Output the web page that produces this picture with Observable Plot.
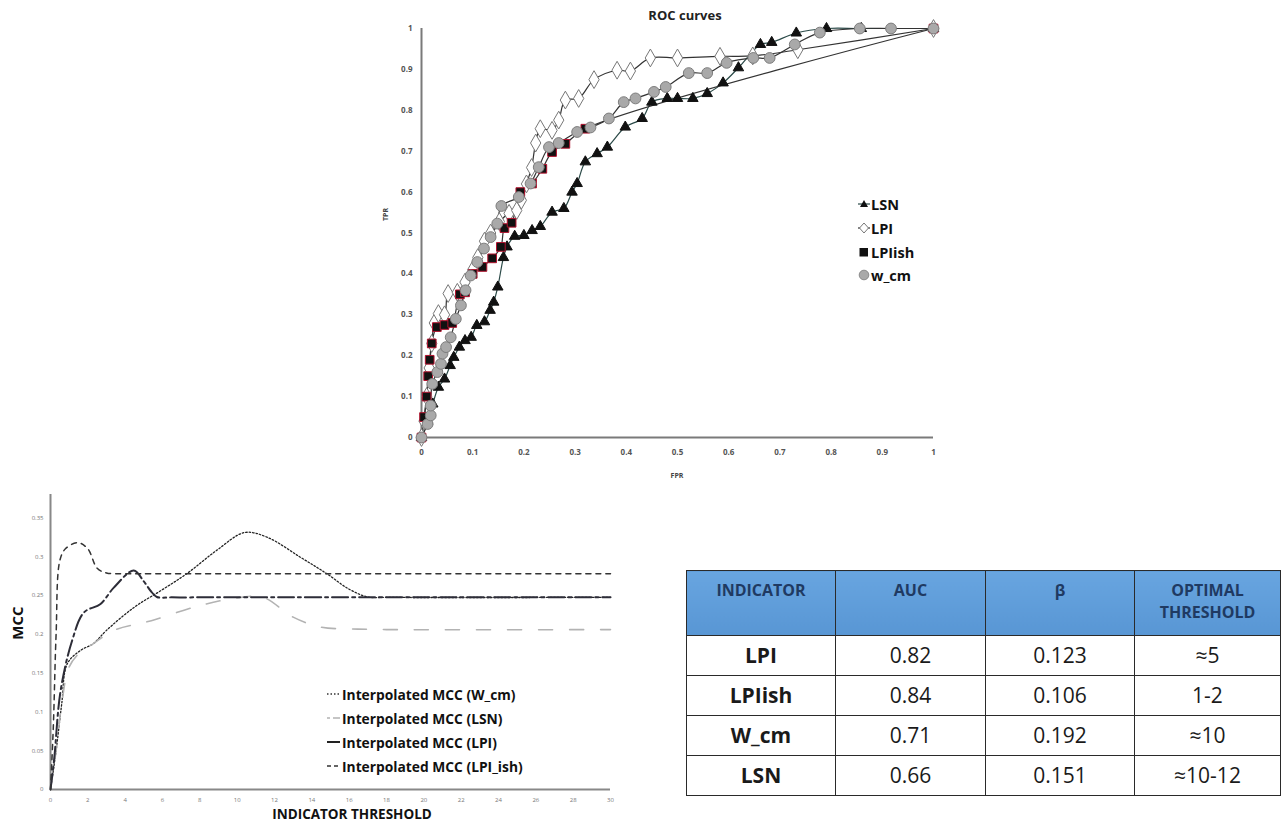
<!DOCTYPE html>
<html><head><meta charset="utf-8">
<script src="https://cdn.jsdelivr.net/npm/d3@7"></script>
<script src="https://cdn.jsdelivr.net/npm/@observablehq/plot@0.6"></script>
<style>
body{margin:0;background:#fff;font-family:"Open Sans",sans-serif;width:1285px;height:825px;position:relative;overflow:hidden}
.abs{position:absolute}
.lg{position:absolute;display:flex;align-items:center;font-weight:bold;white-space:nowrap;color:#111}
.lg svg{margin-right:1px}
table{border-collapse:collapse;table-layout:fixed}
td,th{border:1.5px solid #2a2a2a;text-align:center;padding:0}
th{background:linear-gradient(#68a5e0,#5896d4);color:#1f3a62;font-size:16px;font-weight:bold;vertical-align:top;padding-top:8px;line-height:22px;height:56px}
td{font-size:21px;color:#1a1a1a;height:39px;line-height:39px}
td.b{font-weight:bold}
</style></head><body>
<div id="roc" class="abs" style="left:370px;top:0"></div>
<div class="abs" style="left:600px;top:6px;width:170px;text-align:center;font-weight:bold;font-size:13px;color:#222">ROC curves</div>
<div class="abs" style="left:370px;top:210px;width:30px;text-align:center;font-weight:bold;font-size:7px;color:#444;transform:rotate(-90deg)">TPR</div>
<div class="abs" style="left:660px;top:471px;width:34px;text-align:center;font-weight:bold;font-size:7px;color:#444">FPR</div>
<div id="rocLegend"></div>

<div id="mcc" class="abs" style="left:0;top:490px"></div>
<div class="abs" style="left:-8px;top:613px;width:50px;text-align:center;font-weight:bold;font-size:15px;color:#111;transform:rotate(-90deg)">MCC</div>
<div class="abs" style="left:252px;top:805px;width:200px;text-align:center;font-weight:bold;font-size:13.5px;color:#111">INDICATOR THRESHOLD</div>
<div id="mccLegend"></div>

<div id="tbl" class="abs" style="left:686px;top:570px"></div>

<script>
// ---------------- ROC data ----------------
const lsnFpr = [0,0.012,0.022,0.033,0.045,0.056,0.063,0.074,0.085,0.097,0.108,0.123,0.134,0.141,0.149,0.16,0.167,0.182,0.2,0.216,0.232,0.255,0.278,0.294,0.304,0.32,0.343,0.363,0.398,0.431,0.45,0.48,0.5,0.53,0.558,0.589,0.619,0.662,0.684,0.732,0.791,0.859,1];
const lsnTpr = [0,0.04,0.082,0.123,0.143,0.176,0.196,0.221,0.237,0.245,0.274,0.283,0.311,0.331,0.368,0.44,0.466,0.492,0.494,0.506,0.516,0.551,0.56,0.6,0.621,0.674,0.694,0.71,0.759,0.78,0.82,0.829,0.829,0.829,0.841,0.867,0.904,0.961,0.966,0.989,1,1,1];

const lpiFpr = [0,0.005,0.01,0.015,0.02,0.025,0.033,0.045,0.052,0.07,0.085,0.1,0.11,0.123,0.135,0.152,0.171,0.186,0.195,0.205,0.215,0.223,0.232,0.255,0.268,0.281,0.307,0.337,0.382,0.408,0.447,0.5,0.583,0.647,0.735,1];
const lpiTpr = [0,0.04,0.1,0.17,0.23,0.28,0.303,0.3,0.352,0.355,0.38,0.41,0.44,0.48,0.5,0.528,0.548,0.555,0.58,0.62,0.66,0.72,0.755,0.751,0.776,0.825,0.829,0.875,0.898,0.896,0.928,0.928,0.932,0.933,0.948,1];

const lpiishFpr = [0,0.005,0.01,0.013,0.016,0.02,0.03,0.045,0.06,0.075,0.085,0.1,0.119,0.138,0.155,0.162,0.176,0.193,0.216,0.236,0.255,0.281,0.32,1];
const lpiishTpr = [0,0.05,0.1,0.15,0.19,0.23,0.27,0.275,0.28,0.35,0.355,0.4,0.417,0.438,0.466,0.512,0.525,0.6,0.621,0.657,0.698,0.718,0.755,1];

const wcmFpr = [0,0.012,0.018,0.018,0.021,0.031,0.038,0.041,0.048,0.057,0.067,0.077,0.086,0.096,0.109,0.122,0.135,0.148,0.156,0.19,0.213,0.229,0.249,0.268,0.304,0.33,0.366,0.395,0.418,0.454,0.477,0.522,0.558,0.596,0.648,0.68,0.729,0.778,0.856,0.917,1];
const wcmTpr = [0,0.033,0.054,0.078,0.131,0.16,0.18,0.205,0.221,0.245,0.29,0.323,0.36,0.396,0.429,0.462,0.49,0.523,0.566,0.588,0.621,0.661,0.71,0.72,0.747,0.758,0.78,0.82,0.829,0.845,0.857,0.891,0.891,0.916,0.928,0.928,0.961,0.99,1,1,1];

const rocTicks = [0,0.1,0.2,0.3,0.4,0.5,0.6,0.7,0.8,0.9,1];
const rocNames = ["LSN","LPI","LPIish","w_cm"];

// ---------------- MCC data ----------------
const wcmT = [0,0.3,0.6,0.9,1.6,2.3,3.0,4.5,5.9,7.3,8.9,10.4,11.6,13.4,14.8,16.0,17.0,18,30];
const wcmMcc = [0,0.05,0.11,0.162,0.179,0.188,0.205,0.235,0.256,0.278,0.308,0.331,0.325,0.299,0.278,0.258,0.248,0.2475,0.2475];

const lsnT = [0,0.3,0.6,1.0,1.6,2.3,3.4,5.4,8.0,10.2,11.4,13.0,14.5,16.0,18,30];
const lsnMcc = [0,0.05,0.11,0.158,0.177,0.188,0.205,0.2175,0.237,0.2475,0.2475,0.222,0.209,0.207,0.206,0.206];

const lpiT = [0,0.2,0.54,1.16,1.79,2.68,3.39,4.46,5.0,5.36,5.7,6.5,8,30];
const lpiMcc = [0,0.04,0.127,0.192,0.228,0.239,0.26,0.282,0.268,0.256,0.248,0.2475,0.2475,0.2475];

const lpiishT = [0,0.15,0.3,0.5,0.8,1.46,2.0,2.5,3.0,4.0,6,30];
const lpiishMcc = [0,0.08,0.2,0.295,0.31,0.318,0.31,0.285,0.279,0.278,0.278,0.278];

const mccXTicks = [0,2,4,6,8,10,12,14,16,18,20,22,24,26,28,30];
const mccYTicks = [0,0.05,0.1,0.15,0.2,0.25,0.3,0.35];
const mccNames = ["Interpolated MCC (W_cm)","Interpolated MCC (LSN)","Interpolated MCC (LPI)","Interpolated MCC (LPI_ish)"];

// ---------------- Table data ----------------
const tblHeader = ["INDICATOR","AUC","β","OPTIMAL<br>THRESHOLD"];
const tblIndicators = ["LPI","LPIish","W_cm","LSN"];
const tblAuc = ["0.82","0.84","0.71","0.66"];
const tblBeta = ["0.123","0.106","0.192","0.151"];
const tblThreshold = ["≈5","1-2","≈10","≈10-12"];

// ---------------- helpers ----------------
const zip = (xs, ys, kx, ky) => xs.map((x, i) => ({[kx]: x, [ky]: ys[i]}));
const roc = {
  LSN: zip(lsnFpr, lsnTpr, "fpr", "tpr"),
  LPI: zip(lpiFpr, lpiTpr, "fpr", "tpr"),
  LPIish: zip(lpiishFpr, lpiishTpr, "fpr", "tpr"),
  w_cm: zip(wcmFpr, wcmTpr, "fpr", "tpr")
};
const sty = {
  LSN: {line: "#2b4a48", symbol: "triangle", fill: "#111", stroke: "#111", r: 3.9},
  LPI: {line: "#333", symbol: "diamond", fill: "#fff", stroke: "#777", r: 5.4},
  LPIish: {line: "#333", symbol: "square", fill: "#111", stroke: "#b3122e", r: 4.9},
  w_cm: {line: "#333", symbol: "circle", fill: "#a9a9a9", stroke: "#7d7d7d", r: 5.4}
};

const rocPlot = Plot.plot({
  width: 600, height: 490,
  marginLeft: 51, marginRight: 37, marginTop: 28, marginBottom: 53,
  style: {fontFamily: "Open Sans", background: "transparent"},
  x: {domain: [0, 1]},
  y: {domain: [0, 1]},
  marks: [
    Plot.axisX(rocTicks, {tickSize: 0, tickPadding: 12, fontSize: 8, fontWeight: "bold", color: "#555", label: null, tickFormat: d => String(d)}),
    Plot.axisY(rocTicks, {tickSize: 0, tickPadding: 9, fontSize: 8, fontWeight: "bold", color: "#555", label: null, tickFormat: d => String(d)}),
    Plot.ruleY([0], {stroke: "#7a7a7a", strokeWidth: 2}),
    Plot.ruleX([0], {stroke: "#7a7a7a", strokeWidth: 2}),
    ...rocNames.map(n =>
      Plot.line(roc[n], {x: "fpr", y: "tpr", stroke: sty[n].line, strokeWidth: 1.2, curve: "catmull-rom"})),
    ...rocNames.map(n =>
      Plot.dot(roc[n], {x: "fpr", y: "tpr", symbol: sty[n].symbol, fill: sty[n].fill, stroke: sty[n].stroke, strokeWidth: 1, r: sty[n].r}))
  ]
});
document.getElementById("roc").appendChild(rocPlot);

// ROC legend
const legSvg = {
  LSN: '<svg width="12" height="10"><line x1="0" y1="5" x2="12" y2="5" stroke="#2b4a48" stroke-width="1.2"/><path d="M6,1 L10,8 L2,8 Z" fill="#111"/></svg>',
  LPI: '<svg width="12" height="12"><line x1="0" y1="6" x2="12" y2="6" stroke="#333" stroke-width="1.2"/><path d="M6,1 L10.5,6 L6,11 L1.5,6 Z" fill="#fff" stroke="#777"/></svg>',
  LPIish: '<svg width="12" height="10"><rect x="1.5" y="1" width="8.5" height="8.5" fill="#111"/></svg>',
  w_cm: '<svg width="12" height="12"><circle cx="6" cy="6" r="4.8" fill="#a9a9a9" stroke="#8a8a8a"/></svg>'
};
const rocLegY = [204, 228, 252, 275];
document.getElementById("rocLegend").innerHTML = rocNames.map((n, i) =>
  `<div class="lg" style="left:858px;top:${rocLegY[i] - 10}px;height:20px;font-size:14.5px">${legSvg[n]}${n}</div>`).join("");

// ---------------- MCC plot ----------------
const mccSeries = [
  {data: zip(wcmT, wcmMcc, "t", "v"), stroke: "#222", w: 1.3, dash: "1.5,2"},
  {data: zip(lsnT, lsnMcc, "t", "v"), stroke: "#b3b3b3", w: 1.6, dash: "14,17"},
  {data: zip(lpiT, lpiMcc, "t", "v"), stroke: "#2d2d38", w: 2, dash: "16,4,3,4"},
  {data: zip(lpiishT, lpiishMcc, "t", "v"), stroke: "#333", w: 1.5, dash: "5,5"}
];
const mccPlot = Plot.plot({
  width: 630, height: 335,
  marginLeft: 50, marginRight: 20, marginTop: 4, marginBottom: 36,
  style: {fontFamily: "Open Sans", background: "transparent"},
  x: {domain: [0, 30]},
  y: {domain: [0, 0.38]},
  marks: [
    Plot.axisX(mccXTicks, {tickSize: 0, tickPadding: 8, fontSize: 6, color: "#777", label: null, tickFormat: d => String(d)}),
    Plot.axisY(mccYTicks, {tickSize: 0, tickPadding: 7, fontSize: 6, color: "#777", label: null, tickFormat: d => String(d)}),
    Plot.ruleY([0], {stroke: "#888", strokeWidth: 2}),
    Plot.ruleX([0], {stroke: "#888", strokeWidth: 2}),
    ...mccSeries.map(s => Plot.line(s.data, {x: "t", y: "v", stroke: s.stroke, strokeWidth: s.w, strokeDasharray: s.dash, curve: "catmull-rom"}))
  ]
});
document.getElementById("mcc").appendChild(mccPlot);

// MCC legend
const mccLegSym = [
  '<svg width="15" height="10"><line x1="1" y1="5" x2="14" y2="5" stroke="#333" stroke-width="1.3" stroke-dasharray="1.5,2"/></svg>',
  '<svg width="15" height="10"><line x1="1" y1="5" x2="14" y2="5" stroke="#b3b3b3" stroke-width="1.3" stroke-dasharray="3,3,8,3"/></svg>',
  '<svg width="15" height="10"><line x1="1" y1="5" x2="14" y2="5" stroke="#222" stroke-width="2"/></svg>',
  '<svg width="15" height="10"><line x1="1" y1="5" x2="14" y2="5" stroke="#333" stroke-width="1.3" stroke-dasharray="4,3"/></svg>'
];
const mccLegY = [694, 718, 742, 766];
document.getElementById("mccLegend").innerHTML = mccNames.map((n, i) =>
  `<div class="lg" style="left:326px;top:${mccLegY[i] - 10}px;height:20px;font-size:13.8px">${mccLegSym[i]}${n}</div>`).join("");

// ---------------- Table ----------------
const colW = [149, 150, 149, 146];
let html = '<table><colgroup>' + colW.map(w => `<col style="width:${w}px">`).join("") + '</colgroup><tr>' +
  tblHeader.map(h => `<th>${h}</th>`).join("") + '</tr>';
tblIndicators.forEach((ind, i) => {
  html += `<tr><td class="b">${ind}</td><td>${tblAuc[i]}</td><td>${tblBeta[i]}</td><td>${tblThreshold[i]}</td></tr>`;
});
html += '</table>';
document.getElementById("tbl").innerHTML = html;
</script>
</body></html>
